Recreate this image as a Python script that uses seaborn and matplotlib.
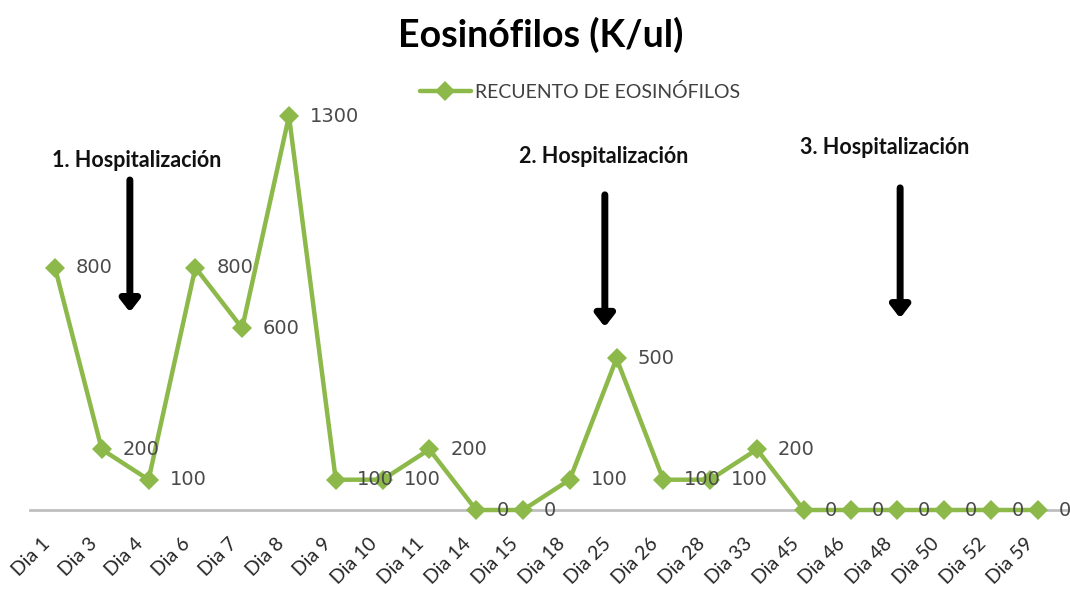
import matplotlib
matplotlib.use("Agg")
import matplotlib.pyplot as plt
import matplotlib.transforms as mtransforms
import seaborn as sns
import pandas as pd
from matplotlib.patches import FancyArrowPatch
from matplotlib.lines import Line2D

days = ["Dia 1", "Dia 3", "Dia 4", "Dia 6", "Dia 7", "Dia 8", "Dia 9", "Dia 10",
        "Dia 11", "Dia 14", "Dia 15", "Dia 18", "Dia 25", "Dia 26", "Dia 28",
        "Dia 33", "Dia 45", "Dia 46", "Dia 48", "Dia 50", "Dia 52", "Dia 59"]
eosinofilos = [800, 200, 100, 800, 600, 1300, 100, 100, 200, 0, 0, 100, 500,
               100, 100, 200, 0, 0, 0, 0, 0, 0]
hosp_labels = ["1. Hospitalización", "2. Hospitalización", "3. Hospitalización"]

sns.set_theme(style="white")
plt.rcParams["font.family"] = ["Lato", "DejaVu Sans"]

GREEN = "#8db94a"
df = pd.DataFrame({"pos": range(len(days)), "dia": days, "valor": eosinofilos})

fig = plt.figure(figsize=(10.7, 5.96), dpi=100)
ax = fig.add_axes([30 / 1070, 86 / 596, 1040 / 1070, 410 / 596])

sns.lineplot(data=df, x="pos", y="valor", ax=ax, color=GREEN, linewidth=3.2,
             marker="D", markersize=10, markeredgewidth=0, clip_on=False,
             legend=False)

ax.set_xlim(-0.534, 21.69)
ax.set_ylim(0, 1353)
ax.set_xticks(range(len(days)))
ax.set_xticklabels(days, rotation=45, ha="right", rotation_mode="anchor",
                   fontsize=14, color="#262626")
ax.tick_params(axis="x", length=0, pad=18)
shift = mtransforms.ScaledTranslation(-10 / 72, 0, fig.dpi_scale_trans)
for lbl in ax.get_xticklabels():
    lbl.set_transform(lbl.get_transform() + shift)
ax.set_yticks([])
ax.set_xlabel("")
ax.set_ylabel("")
for s in ["left", "right", "top"]:
    ax.spines[s].set_visible(False)
ax.spines["bottom"].set_color("#bfbfbf")
ax.spines["bottom"].set_linewidth(2)
ax.spines["bottom"].set_zorder(0)

for i, v in enumerate(eosinofilos):
    ax.annotate(str(v), (i, v), xytext=(15, 0), textcoords="offset points",
                ha="left", va="center", fontsize=14, color="#4a4a4a",
                family=["DejaVu Sans"], annotation_clip=False)

# hospitalization annotations (text x, text y, arrow x, arrow start y, arrow end y)
hosp_text = [(1.74, 1155), (11.73, 1168), (17.73, 1195)]
hosp_arrow = [(1.60, 1089, 653), (11.75, 1040, 604), (18.06, 1063, 633)]
for lab, (tx, ty), (axx, y0, y1) in zip(hosp_labels, hosp_text, hosp_arrow):
    ax.text(tx, ty, lab, ha="center", va="center", fontsize=15.5,
            fontweight="bold", color="#111111")
    arr = FancyArrowPatch((axx, y0), (axx, y1),
                          arrowstyle="-|>,head_length=0.45,head_width=0.35",
                          mutation_scale=16, lw=5, color="black",
                          shrinkA=0, shrinkB=0)
    ax.add_patch(arr)

handle = Line2D([], [], color=GREEN, lw=3.2, marker="D", markersize=10,
                markeredgewidth=0)
leg = fig.legend([handle], ["RECUENTO DE EOSINÓFILOS"], loc="center",
                 bbox_to_anchor=(580 / 1070, 1 - 92 / 596), frameon=False,
                 fontsize=14, handlelength=2.6, handletextpad=0.2)
for t in leg.get_texts():
    t.set_color("#404040")

fig.text(541 / 1070, 1 - 35 / 596, "Eosinófilos (K/ul)", ha="center",
         va="center", fontsize=27, fontweight="bold", color="black")

fig.savefig("out.png", dpi=100)
